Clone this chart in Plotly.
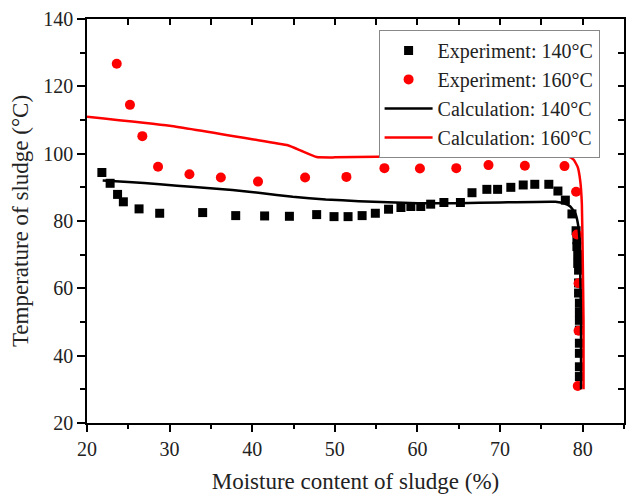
import plotly.graph_objects as go

# Experiment: 140°C
exp140_x = [21.8, 22.8, 23.7, 24.4, 26.3, 28.8, 34.0, 38.0, 41.5, 44.5, 47.8, 49.9, 51.6, 53.3,
            54.9, 56.5, 58.0, 59.2, 60.4, 61.6, 63.2, 65.2, 66.6, 68.4, 69.7, 71.3, 72.8, 74.2,
            75.9, 77.0, 77.9, 78.7, 79.2, 79.3, 79.3, 79.4, 79.4, 79.5, 79.5, 79.5, 79.6, 79.6,
            79.6, 79.6, 79.6, 79.6, 79.6, 79.6]
exp140_y = [94.4, 91.2, 87.9, 85.7, 83.6, 82.3, 82.5, 81.6, 81.5, 81.4, 81.9, 81.3, 81.3, 81.6,
            82.3, 83.5, 84.0, 84.3, 84.3, 85.0, 85.5, 85.5, 88.4, 89.4, 89.4, 90.0, 90.7, 90.9,
            90.9, 88.9, 86.2, 82.1, 77.1, 74.4, 72.4, 70.0, 67.4, 65.4, 61.6, 58.6, 55.6, 53.0,
            50.5, 47.6, 43.7, 40.7, 36.7, 33.8]

# Experiment: 160°C
exp160_x = [23.6, 25.2, 26.7, 28.6, 32.4, 36.2, 40.7, 46.4, 51.4, 56.0, 60.3, 64.7, 68.6, 73.0,
            77.8, 79.2, 79.3, 79.5, 79.5, 79.4]
exp160_y = [126.7, 114.5, 105.2, 96.1, 93.9, 92.9, 91.7, 92.9, 93.1, 95.7, 95.6, 95.7, 96.6, 96.4,
            96.3, 88.7, 76.0, 61.5, 47.4, 31.0]

# Calculation: 140°C
calc140_x = [21.9, 25.0, 28.8, 33.0, 37.6, 41.0, 44.9, 48.9, 52.9, 60.0, 65.0, 70.0, 76.7, 77.8,
             78.5, 79.1, 79.4, 79.6, 79.7, 79.8, 79.8]
calc140_y = [92.0, 91.6, 90.9, 90.1, 89.2, 88.3, 87.2, 86.4, 85.9, 85.3, 85.3, 85.5, 85.7, 85.2,
             84.3, 82.3, 79.5, 75.0, 65.0, 50.0, 30.0]

# Calculation: 160°C
calc160_x = [20.0, 30.0, 40.0, 44.3, 46.0, 47.8, 50.0, 60.0, 70.0, 77.0, 78.2, 78.9, 79.4, 79.7,
             79.9, 80.0, 80.1, 80.1]
calc160_y = [111.0, 108.3, 104.3, 102.5, 100.8, 99.0, 98.9, 99.3, 99.4, 99.6, 99.2, 98.2, 96.0,
             92.0, 85.0, 70.0, 50.0, 30.0]

x_range = [20, 85]
y_range = [20, 140]
FONT = "Liberation Serif"
RED = "#ff0000"

fig = go.Figure()
fig.add_trace(go.Scatter(x=exp140_x, y=exp140_y, mode="markers", name="Experiment: 140°C",
                         marker=dict(symbol="square", size=9, color="black")))
fig.add_trace(go.Scatter(x=exp160_x, y=exp160_y, mode="markers", name="Experiment: 160°C",
                         marker=dict(symbol="circle", size=10, color=RED)))
fig.add_trace(go.Scatter(x=calc140_x, y=calc140_y, mode="lines", name="Calculation: 140°C",
                         line=dict(color="black", width=2.5, shape="spline", smoothing=0.4)))
fig.add_trace(go.Scatter(x=calc160_x, y=calc160_y, mode="lines", name="Calculation: 160°C",
                         line=dict(color=RED, width=2.5, shape="spline", smoothing=0.4)))
# helper trace so that the mirrored (top / right) tick axes are drawn
fig.add_trace(go.Scatter(x=[None], y=[None], xaxis="x2", yaxis="y2", showlegend=False,
                         hoverinfo="skip", mode="markers"))

fig.update_layout(
    width=627, height=494,
    margin=dict(l=87, r=1, t=19, b=71),
    paper_bgcolor="white", plot_bgcolor="white",
    font=dict(family=FONT, size=20, color="#222222"),
    showlegend=True,
    legend=dict(x=0.543, y=0.973, xanchor="left", yanchor="top",
                bgcolor="white", bordercolor="#888888", borderwidth=1,
                font=dict(family=FONT, size=20, color="#222222"),
                itemwidth=48, tracegroupgap=0),
    xaxis=dict(range=x_range, dtick=10, tick0=20, showgrid=False, zeroline=False,
               showline=True, linecolor="black", linewidth=1.5, mirror=True,
               ticks="outside", ticklen=7, tickwidth=1.5, tickcolor="black",
               minor=dict(dtick=5, ticks="outside", ticklen=4, tickwidth=1.5, tickcolor="black"),
               tickfont=dict(size=20),
               title=dict(text="Moisture content of sludge (%)", font=dict(size=23), standoff=16)),
    yaxis=dict(range=y_range, dtick=20, tick0=20, showgrid=False, zeroline=False,
               showline=True, linecolor="black", linewidth=1.5, mirror=True,
               ticks="outside", ticklen=8, tickwidth=1.5, tickcolor="black",
               minor=dict(dtick=10, ticks="outside", ticklen=5, tickwidth=1.5, tickcolor="black"),
               tickfont=dict(size=20),
               title=dict(text="Temperature of sludge (°C)", font=dict(size=23), standoff=8)),
    xaxis2=dict(range=x_range, overlaying="x", side="top", anchor="y", dtick=5, tick0=20,
                ticks="inside", ticklen=6, tickwidth=1.5, tickcolor="black",
                showticklabels=False, showgrid=False, zeroline=False, showline=False),
    yaxis2=dict(range=y_range, overlaying="y", side="right", anchor="x", dtick=10, tick0=20,
                ticks="inside", ticklen=6, tickwidth=1.5, tickcolor="black",
                showticklabels=False, showgrid=False, zeroline=False, showline=False),
)

fig.write_html("out.html")
